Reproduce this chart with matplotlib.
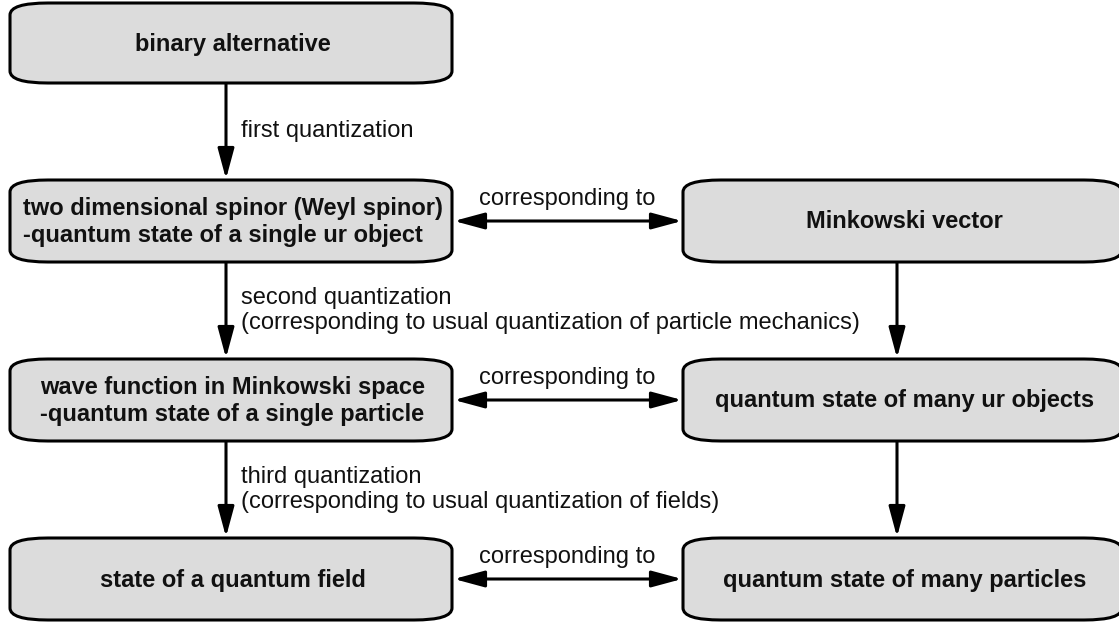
import matplotlib
matplotlib.use("Agg")
import matplotlib.pyplot as plt
from matplotlib.path import Path
from matplotlib.patches import PathPatch, FancyArrowPatch, ArrowStyle

plt.rcParams["font.family"] = ["Liberation Sans", "DejaVu Sans"]

# nodes of the diagram: text, grid row, grid column
node_text = [
    "binary alternative",
    "two dimensional spinor (Weyl spinor)\n-quantum state of a single ur object",
    "Minkowski vector",
    "wave function in Minkowski space\n-quantum state of a single particle",
    "quantum state of many ur objects",
    "state of a quantum field",
    "quantum state of many particles",
]
node_row = [0, 1, 1, 2, 2, 3, 3]
node_col = [0, 0, 1, 0, 1, 0, 1]

# vertical arrows (from node, to node, label)
down_edges = [
    (0, 1, "first quantization"),
    (1, 3, "second quantization\n(corresponding to usual quantization of particle mechanics)"),
    (3, 5, "third quantization\n(corresponding to usual quantization of fields)"),
    (2, 4, ""),
    (4, 6, ""),
]
# horizontal double arrows
side_edges = [
    (1, 2, "corresponding to"),
    (3, 4, "corresponding to"),
    (5, 6, "corresponding to"),
]

# layout in pixels
W, H = 1119, 623
col_span = [(10, 452), (683, 1122)]
col_arrow_x = [226, 897]
row_span = [(3, 83), (180, 262), (359, 441), (538, 620)]
FS = 17.0
LW = 2.2
FILL = "#dcdcdc"


def box_path(x0, x1, y0, y1, cw=38, ch=12):
    verts = [
        (x0 + cw, y0), (x1 - cw, y0),
        (x1, y0), (x1, y0 + ch),
        (x1, y1 - ch),
        (x1, y1), (x1 - cw, y1),
        (x0 + cw, y1),
        (x0, y1), (x0, y1 - ch),
        (x0, y0 + ch),
        (x0, y0), (x0 + cw, y0),
        (x0 + cw, y0),
    ]
    codes = [Path.MOVETO, Path.LINETO,
             Path.CURVE3, Path.CURVE3,
             Path.LINETO,
             Path.CURVE3, Path.CURVE3,
             Path.LINETO,
             Path.CURVE3, Path.CURVE3,
             Path.LINETO,
             Path.CURVE3, Path.CURVE3,
             Path.CLOSEPOLY]
    return Path(verts, codes)


fig = plt.figure(figsize=(W / 100, H / 100), dpi=100)
ax = fig.add_axes([0, 0, 1, 1])
ax.set_xlim(0, W)
ax.set_ylim(H, 0)
ax.axis("off")

for text, r, c in zip(node_text, node_row, node_col):
    x0, x1 = col_span[c]
    y0, y1 = row_span[r]
    ax.add_patch(PathPatch(box_path(x0, x1, y0, y1), facecolor=FILL,
                           edgecolor="black", lw=LW, zorder=2))
    ax.text((x0 + x1) / 2 + 2, (y0 + y1) / 2 + 1, text, ha="center", va="center",
            multialignment="left", fontsize=FS, fontweight="bold",
            color="#111111", zorder=3)

head = ArrowStyle("-|>", head_length=18.5, head_width=5.0)
both = ArrowStyle("<|-|>", head_length=18.5, head_width=5.0)

for a, b, label in down_edges:
    x = col_arrow_x[node_col[a]]
    ya = row_span[node_row[a]][1]
    yb = row_span[node_row[b]][0]
    ax.add_patch(FancyArrowPatch((x, ya), (x, yb - 1), arrowstyle=head,
                                 mutation_scale=1, lw=LW, color="black",
                                 shrinkA=0, shrinkB=0, zorder=1))
    if label:
        ax.text(x + 15, (ya + yb) / 2, label, ha="left", va="center",
                fontsize=FS, color="#111111", linespacing=1.2)

for a, b, label in side_edges:
    y = sum(row_span[node_row[a]]) / 2
    xa = col_span[node_col[a]][1]
    xb = col_span[node_col[b]][0]
    ax.add_patch(FancyArrowPatch((xa + 2, y), (xb - 1, y), arrowstyle=both,
                                 mutation_scale=1, lw=LW, color="black",
                                 shrinkA=0, shrinkB=0, zorder=1))
    ax.text((xa + xb) / 2, y - 22, label, ha="center", va="center",
            fontsize=FS, color="#111111")

fig.savefig("out.png", dpi=100, facecolor="white")
